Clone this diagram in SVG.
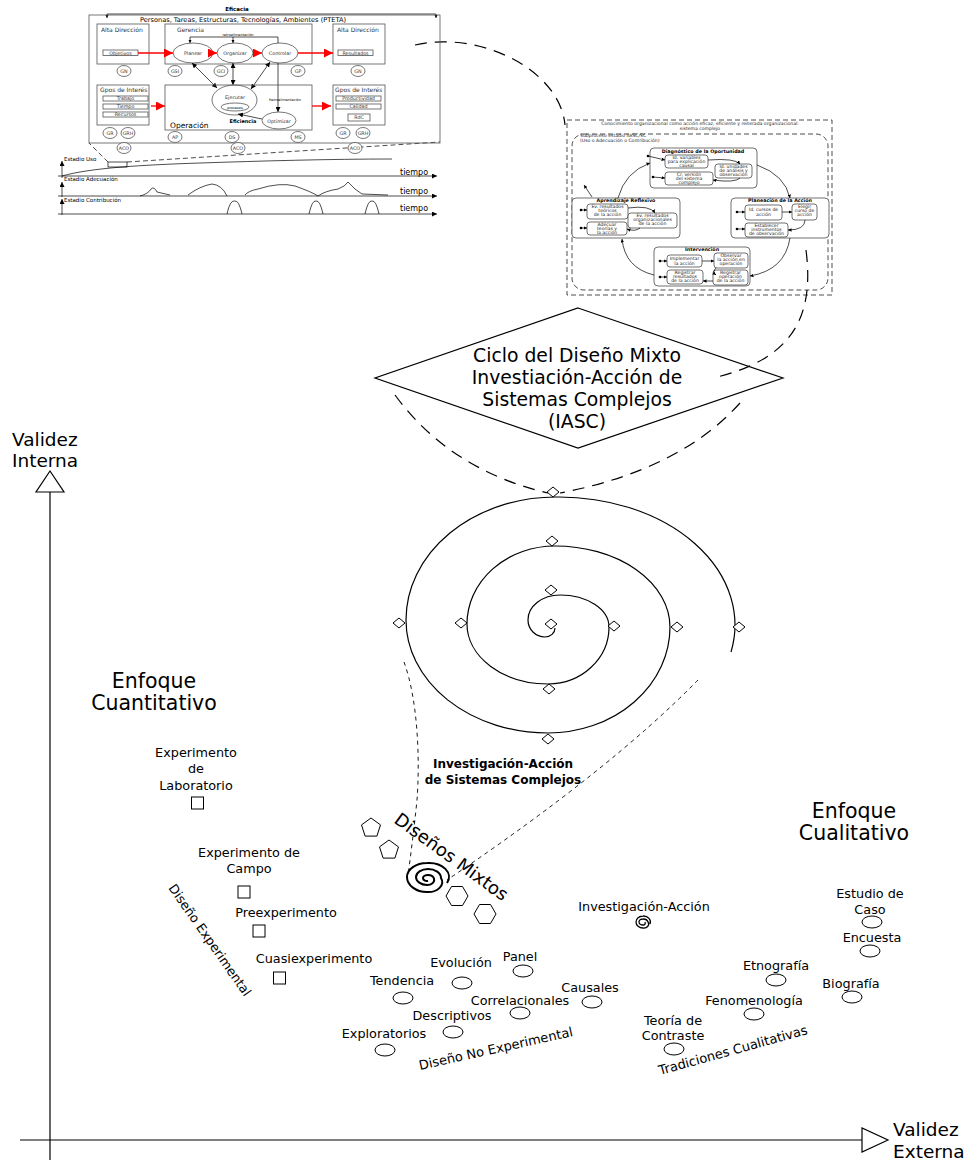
<svg xmlns="http://www.w3.org/2000/svg" width="973" height="1162" viewBox="0 0 973 1162">
<defs>
<style>
text{font-family:"DejaVu Sans","Liberation Sans",sans-serif;fill:#000}
.ln{stroke:#000;fill:none;stroke-width:1.2}
.thin{stroke:#000;fill:none;stroke-width:0.7}
.gr{stroke:#555;fill:none;stroke-width:0.8}
.wb{stroke:#333;fill:#fff;stroke-width:0.7}
.dl{stroke:#000;fill:none;stroke-width:1.2;stroke-dasharray:12 8}
.ds{stroke:#000;fill:none;stroke-width:0.9;stroke-dasharray:4 4}
.dc{stroke:#000;fill:none;stroke-width:0.7;stroke-dasharray:5 3}
.red{stroke:#f00;fill:none;stroke-width:1.3}
.lab{font-size:12.8px;text-anchor:middle}
.big{font-size:20.5px;text-anchor:middle}
.dia{font-size:18.8px;text-anchor:middle}
.tiny{font-size:4.6px;text-anchor:middle;fill:#222}
.tb{font-size:4.8px;text-anchor:middle;font-weight:bold}
.sm{font-size:6px;fill:#333}
.ci{font-size:4.8px;text-anchor:middle;fill:#333}
</style>
<marker id="ah" viewBox="0 0 10 10" refX="10" refY="5" markerWidth="5" markerHeight="5" orient="auto-start-reverse" markerUnits="userSpaceOnUse"><path d="M0,0 L10,5 L0,10 z" fill="#000"/></marker>
<marker id="as" viewBox="0 0 10 10" refX="10" refY="5" markerWidth="3.5" markerHeight="3.5" orient="auto-start-reverse" markerUnits="userSpaceOnUse"><path d="M0,0 L10,5 L0,10 z" fill="#000"/></marker>
<marker id="rh" viewBox="0 0 10 10" refX="10" refY="5" markerWidth="12" markerHeight="9" orient="auto" markerUnits="userSpaceOnUse"><path d="M0,0 L10,5 L0,10 z" fill="#f00"/></marker>
<path id="dm" d="M0,-5 L6,0 L0,5 L-6,0 Z" fill="#fff" stroke="#000" stroke-width="1"/>
<path id="pent" d="M0,-10 L9.5,-3.1 L5.9,8.1 L-5.9,8.1 L-9.5,-3.1 Z" fill="#fff" stroke="#000" stroke-width="1"/>
<path id="hex" d="M11,0 L5.5,9.5 L-5.5,9.5 L-11,0 L-5.5,-9.5 L5.5,-9.5 Z" fill="#fff" stroke="#000" stroke-width="1"/>
<ellipse id="ov" rx="10" ry="6" fill="#fff" stroke="#000" stroke-width="1"/>
<rect id="sq" x="-6" y="-6" width="12" height="12" fill="#fff" stroke="#000" stroke-width="1"/>
<ellipse id="gc" rx="7" ry="5.5" fill="#fff" stroke="#555" stroke-width="0.8"/>
</defs>
<rect width="973" height="1162" fill="#fff"/>

<!-- connectors -->
<g id="connectors">
<path class="dl" d="M415 45 C480 30 560 70 565 125"/>
<path class="dc" d="M108 162 L89 143"/>
<path class="dc" d="M127 162 L440 142"/>
<path class="dl" d="M806 250 C815 320 790 360 713 378"/>
<path class="dl" d="M395 395 Q450 470 548 493"/>
<path class="dl" d="M740 403 Q680 470 560 493"/>
<path class="ds" d="M404 662 C418 700 420 760 417 800 C414 830 410 860 408 876"/>
<path class="ds" d="M698 680 Q610 770 447 880"/>
</g>

<!-- axes -->
<g id="axes">
<path class="ln" d="M50 492 L50 1160"/>
<path d="M50 471 L64 492 L36 492 Z" fill="#fff" stroke="#000" stroke-width="1.2"/>
<path class="ln" d="M20 1140 L862 1140"/>
<path d="M888 1140 L862 1152 L862 1128 Z" fill="#fff" stroke="#000" stroke-width="1.2"/>
<text x="12" y="446" font-size="18.5">Validez</text>
<text x="12" y="467" font-size="18.5">Interna</text>
<text x="893" y="1136" font-size="18.5">Validez</text>
<text x="893" y="1158" font-size="18.5">Externa</text>
</g>

<!-- PTETA diagram -->
<g id="pteta">
<text x="237" y="11" font-size="5.5" font-weight="bold" text-anchor="middle">Eficacia</text>
<path class="thin" d="M107 14 L436 14"/>
<path class="thin" d="M107 14 L107 18" marker-end="url(#as)"/>
<path class="thin" d="M436 14 L436 18" marker-end="url(#as)"/>
<rect x="89" y="15" width="351" height="128" class="gr"/>
<text x="243" y="22" font-size="6.6" text-anchor="middle" fill="#333">Personas, Tareas, Estructuras, Tecnologías, Ambientes (PTETA)</text>
<rect x="97" y="24" width="52" height="40" class="gr"/>
<text x="101" y="32" class="sm" font-size="5.5">Alta Dirección</text>
<rect x="165" y="24" width="147" height="40" class="gr"/>
<text x="177" y="32" class="sm" font-size="5.5">Gerencia</text>
<rect x="333" y="24" width="52" height="40" class="gr"/>
<text x="337" y="32" class="sm" font-size="5.5">Alta Dirección</text>
<rect x="103" y="50" width="35" height="5.5" class="gr"/>
<text x="120.5" y="54.5" class="ci">Objetivos</text>
<rect x="338" y="50" width="35" height="5.5" class="gr"/>
<text x="355.5" y="54.5" class="ci">Resultados</text>
<ellipse cx="193" cy="53" rx="20" ry="10" class="gr"/>
<text x="193" y="55" class="ci" font-size="5.5">Planear</text>
<ellipse cx="235" cy="53" rx="18" ry="10" class="gr"/>
<text x="235" y="55" class="ci" font-size="5.5">Organizar</text>
<ellipse cx="280" cy="53" rx="18" ry="10" class="gr"/>
<text x="280" y="55" class="ci" font-size="5.5">Controlar</text>
<path class="red" d="M138 53 L173 53" marker-end="url(#rh)"/>
<path class="red" d="M212 53 L217 53" marker-end="url(#rh)"/>
<path class="red" d="M253 53 L262 53" marker-end="url(#rh)"/>
<path class="red" d="M298 53 L333 53" marker-end="url(#rh)"/>
<path class="thin" d="M278 43 L278 37 L190 37 L190 43" marker-end="url(#as)"/>
<path class="thin" d="M233 37 L233 43" marker-end="url(#as)"/>
<text x="238" y="36" font-size="3.5" text-anchor="middle" fill="#444">retroalimentación</text>
<use href="#gc" x="124" y="71"/><text x="124" y="72.7" class="ci">GN</text>
<use href="#gc" x="175" y="71"/><text x="175" y="72.7" class="ci">GSI</text>
<use href="#gc" x="221" y="71"/><text x="221" y="72.7" class="ci">GCI</text>
<use href="#gc" x="298" y="71"/><text x="298" y="72.7" class="ci">GP</text>
<use href="#gc" x="358" y="71"/><text x="358" y="72.7" class="ci">GN</text>
<path class="thin" d="M192 63 L217 88" marker-start="url(#ah)" marker-end="url(#ah)"/>
<path class="thin" d="M233 63 L233 85" marker-start="url(#ah)" marker-end="url(#ah)"/>
<path class="thin" d="M270 62 L251 89" marker-start="url(#ah)" marker-end="url(#ah)"/>
<path class="thin" d="M278 63 L278 112" marker-end="url(#ah)"/>
<rect x="97" y="85" width="52" height="40" class="gr"/>
<text x="100" y="92" class="sm" font-size="5.5">Gpos de Interés</text>
<rect x="103" y="96" width="45" height="5" class="gr"/><text x="125.5" y="100.3" class="ci">Trabajo</text>
<rect x="103" y="104" width="45" height="5" class="gr"/><text x="125.5" y="108.3" class="ci">Tiempo</text>
<rect x="103" y="112" width="45" height="5" class="gr"/><text x="125.5" y="116.3" class="ci">Recursos</text>
<path class="red" d="M151 106 L165 106" marker-end="url(#rh)"/>
<rect x="165" y="85" width="147" height="45" class="gr"/>
<text x="170" y="128" font-size="7.5" fill="#333">Operación</text>
<ellipse cx="234.5" cy="100" rx="22.5" ry="15" class="gr"/>
<text x="235" y="99" class="ci" font-size="5.5">Ejecutar</text>
<ellipse cx="235" cy="107" rx="14" ry="4" class="gr"/>
<text x="235" y="108.5" font-size="3.5" text-anchor="middle" fill="#333">procesos</text>
<ellipse cx="279" cy="120.5" rx="17" ry="8.5" class="gr"/>
<text x="279" y="122.5" class="ci" font-size="5.5">Optimizar</text>
<text x="285" y="101" font-size="3.5" text-anchor="middle" fill="#444">Retroalimentación</text>
<path class="thin" d="M238 114 L262 119" marker-start="url(#ah)"/>
<text x="243" y="123" font-size="5" font-weight="bold" text-anchor="middle">Eficiencia</text>
<path class="red" d="M312 106 L331 106" marker-end="url(#rh)"/>
<rect x="333" y="85" width="52" height="40" class="gr"/>
<text x="335" y="92" class="sm" font-size="5.5">Gpos de Interés</text>
<rect x="336" y="96" width="45" height="5" class="gr"/><text x="358.5" y="100.3" class="ci">Productividad</text>
<rect x="336" y="104" width="45" height="5" class="gr"/><text x="358.5" y="108.3" class="ci">Calidad</text>
<rect x="348" y="114" width="22" height="7" class="gr"/><text x="359" y="119.3" class="ci">RdC</text>
<use href="#gc" x="110" y="133"/><text x="110" y="134.7" class="ci">GR</text>
<use href="#gc" x="128" y="133"/><text x="128" y="134.7" class="ci">GRH</text>
<use href="#gc" x="175" y="137"/><text x="175" y="138.7" class="ci">AP</text>
<use href="#gc" x="232" y="137"/><text x="232" y="138.7" class="ci">DS</text>
<use href="#gc" x="298" y="137"/><text x="298" y="138.7" class="ci">MS</text>
<use href="#gc" x="343" y="133"/><text x="343" y="134.7" class="ci">GR</text>
<use href="#gc" x="363" y="133"/><text x="363" y="134.7" class="ci">GRH</text>
<use href="#gc" x="124" y="148"/><text x="124" y="149.7" class="ci">ACO</text>
<use href="#gc" x="238" y="148"/><text x="238" y="149.7" class="ci">ACO</text>
<use href="#gc" x="355" y="148"/><text x="355" y="149.7" class="ci">ACO</text>
</g>

<!-- timelines -->
<g id="timelines">
<path class="thin" d="M58 176 L437 176" marker-end="url(#ah)"/>
<path class="thin" d="M62 178 L62 161" marker-end="url(#ah)"/>
<path class="thin" d="M62 176 C90 168 140 165 200 163 S330 159 392 159"/>
<text x="64" y="161" font-size="5.5" fill="#333">Estadio  Uso</text>
<rect x="108" y="162" width="19" height="5" class="thin"/>
<text x="400" y="175" font-size="8" fill="#333">tiempo</text>
<path class="thin" d="M58 196 L437 196" marker-end="url(#ah)"/>
<path class="thin" d="M62 197 L62 182" marker-end="url(#ah)"/>
<path class="thin" d="M140 196 Q148 194 151 189 Q154 186 157 192 L170 195 M188 195 Q200 186 212 184 Q222 185 227 196 M245 195 Q248 191 258 189 Q280 182 295 186 Q312 192 318 196 Q325 191 338 189 Q346 186 348 182 Q355 190 362 194 L388 195"/>
<text x="64" y="181" font-size="5.5" fill="#333">Estadio Adecuación</text>
<text x="400" y="194" font-size="8" fill="#333">tiempo</text>
<path class="thin" d="M58 214 L437 214" marker-end="url(#ah)"/>
<path class="thin" d="M62 215 L62 199" marker-end="url(#ah)"/>
<path class="thin" d="M227 214 Q230 200 234.5 201 Q239 200 242 214 M309 214 Q312 200 316 201 Q320 200 323 214 M365 214 Q368 200 372 201 Q376 200 379 214"/>
<text x="64" y="202" font-size="5.5" fill="#333">Estadio Contribución</text>
<text x="400" y="211" font-size="8" fill="#333">tiempo</text>
</g>

<!-- cycle diagram -->
<g id="cycle">
<rect x="567" y="120" width="265" height="175" class="dc"/>
<rect x="572" y="134" width="256" height="156" rx="12" class="dc"/>
<text x="700" y="125" class="tiny">Conocimiento organizacional como acción eficaz, eficiente y reiterada organizacional:</text>
<text x="700" y="130" class="tiny">sistema complejo</text>
<text x="580" y="137" class="tiny" style="text-anchor:start">Subproceso estadio IIASC/SC</text>
<text x="580" y="142" class="tiny" style="text-anchor:start">(Uso o Adecuación o Contribución)</text>
<rect x="650" y="148" width="107" height="40" rx="4" class="wb" stroke-width="1"/>
<text x="703" y="153" class="tb">Diagnóstico de la Oportunidad</text>
<rect x="665" y="155" width="43" height="13" rx="3" class="wb"/>
<text x="686.5" y="159" class="tiny">Id. variables</text><text x="686.5" y="163" class="tiny">para explicación</text><text x="686.5" y="167" class="tiny">causal</text>
<rect x="715" y="164" width="37" height="14" rx="3" class="wb"/>
<text x="733.5" y="168" class="tiny">Id. unidades</text><text x="733.5" y="172" class="tiny">de análisis y</text><text x="733.5" y="176" class="tiny">observación</text>
<rect x="665" y="172" width="48" height="13" rx="3" class="wb"/>
<text x="689" y="176" class="tiny">Cr. versión</text><text x="689" y="180" class="tiny">del sistema</text><text x="689" y="184" class="tiny">complejo</text>
<rect x="572" y="198" width="108" height="40" rx="4" class="wb" stroke-width="1"/>
<text x="626" y="202" class="tb">Aprendizaje Reflexivo</text>
<rect x="587" y="204" width="41" height="15" rx="3" class="wb"/>
<text x="607.5" y="208" class="tiny">Ev. resultados</text><text x="607.5" y="212" class="tiny">teóricos</text><text x="607.5" y="216" class="tiny">de la acción</text>
<rect x="628" y="213" width="49" height="15" rx="3" class="wb"/>
<text x="652.5" y="217" class="tiny">Ev. resultados</text><text x="652.5" y="221" class="tiny">organizacionales</text><text x="652.5" y="225" class="tiny">de la acción</text>
<rect x="587" y="222" width="40" height="13" rx="3" class="wb"/>
<text x="607" y="226" class="tiny">Adecuar</text><text x="607" y="230" class="tiny">teorías y</text><text x="607" y="234" class="tiny">la acción</text>
<rect x="731" y="198" width="98" height="40" rx="4" class="wb" stroke-width="1"/>
<text x="780" y="202" class="tb">Planeación de la Acción</text>
<rect x="745" y="205" width="37" height="15" rx="3" class="wb"/>
<text x="763.5" y="211" class="tiny">Id. cursos de</text><text x="763.5" y="216" class="tiny">acción</text>
<rect x="792" y="204" width="25" height="16" rx="3" class="wb"/>
<text x="804.5" y="208" class="tiny">Elegir</text><text x="804.5" y="212" class="tiny">curso de</text><text x="804.5" y="216" class="tiny">acción</text>
<rect x="745" y="223" width="43" height="14" rx="3" class="wb"/>
<text x="766.5" y="227" class="tiny">Establecer</text><text x="766.5" y="231" class="tiny">instrumentos</text><text x="766.5" y="235" class="tiny">de observación</text>
<rect x="654" y="247" width="96" height="39" rx="4" class="wb" stroke-width="1"/>
<text x="702" y="251" class="tb">Intervención</text>
<rect x="667" y="255" width="35" height="12" rx="3" class="wb"/>
<text x="684.5" y="260" class="tiny">Implementar</text><text x="684.5" y="265" class="tiny">la acción</text>
<rect x="714" y="253" width="34" height="15" rx="3" class="wb"/>
<text x="731" y="257" class="tiny">Observar</text><text x="731" y="261" class="tiny">la acción en</text><text x="731" y="265" class="tiny">operación</text>
<rect x="667" y="270" width="36" height="14" rx="3" class="wb"/>
<text x="685" y="274" class="tiny">Registrar</text><text x="685" y="278" class="tiny">resultados</text><text x="685" y="282" class="tiny">de la acción</text>
<rect x="713" y="270" width="35" height="15" rx="3" class="wb"/>
<text x="730.5" y="274" class="tiny">Registrar</text><text x="730.5" y="278" class="tiny">operación</text><text x="730.5" y="282" class="tiny">de la acción</text>
<path class="thin" d="M757 165 Q785 175 790 198" marker-end="url(#as)"/>
<path class="thin" d="M790 238 Q785 270 750 276" marker-end="url(#as)"/>
<path class="thin" d="M654 275 Q625 268 622 239" marker-end="url(#as)"/>
<path class="thin" d="M618 198 Q625 172 650 163" marker-end="url(#as)"/>
<path class="thin" d="M592 197 L584 185" marker-end="url(#as)"/>
<path class="thin" d="M708 160 Q735 158 740 164" marker-end="url(#as)"/>
<path class="thin" d="M740 178 Q735 183 713 180" marker-end="url(#as)"/>
<path class="thin" d="M628 208 Q650 205 655 213" marker-end="url(#as)"/>
<path class="thin" d="M640 228 Q635 232 627 229" marker-end="url(#as)"/>
<path class="thin" d="M782 212 L792 212" marker-end="url(#as)"/>
<path class="thin" d="M805 220 Q805 230 788 230" marker-end="url(#as)"/>
<path class="thin" d="M702 261 L714 261" marker-end="url(#as)"/>
<path class="thin" d="M716 268 Q712 272 716 275" marker-end="url(#as)"/>
<path class="thin" d="M713 281 L703 281" marker-end="url(#as)"/>
<g fill="#000">
<circle cx="648" cy="156" r="1.3"/><circle cx="653" cy="177" r="1.3"/>
<circle cx="581" cy="210" r="1.3"/><circle cx="581" cy="228" r="1.3"/>
<circle cx="737" cy="212" r="1.3"/><circle cx="737" cy="229" r="1.3"/>
<circle cx="660" cy="261" r="1.3"/><circle cx="660" cy="277" r="1.3"/>
</g>
<path class="thin" d="M648 156 L665 160" marker-end="url(#as)"/>
<path class="thin" d="M653 177 L665 178" marker-end="url(#as)"/>
<path class="thin" d="M581 210 L587 210" marker-end="url(#as)"/>
<path class="thin" d="M581 228 L587 228" marker-end="url(#as)"/>
<path class="thin" d="M737 212 L745 212" marker-end="url(#as)"/>
<path class="thin" d="M737 229 L745 229" marker-end="url(#as)"/>
<path class="thin" d="M660 261 L667 261" marker-end="url(#as)"/>
<path class="thin" d="M660 277 L667 277" marker-end="url(#as)"/>
</g>

<!-- diamond node -->
<g id="iasc">
<path d="M578 308 L783 378 L578 448 L375 378 Z" fill="none" stroke="#000" stroke-width="1.2"/>
<text x="577" y="362" class="dia">Ciclo del Diseño Mixto</text>
<text x="577" y="384" class="dia">Investiación-Acción de</text>
<text x="577" y="406" class="dia">Sistemas Complejos</text>
<text x="577" y="428" class="dia">(IASC)</text>
</g>

<!-- spiral -->
<g id="spiral">
<path class="ln" d="M731 652 A176 128 0 0 0 556 497 A150 123 0 0 0 406 620 A142 113 0 0 0 548 733 A122 106 0 0 0 670 627 A115 81 0 0 0 555 546 A88 78 0 0 0 467 624 A81 60 0 0 0 548 684 A61 57 0 0 0 609 627 A49 32 0 0 0 560 595 A32 25 0 0 0 528 620 A17 17 0 0 0 545 637 A10 9 0 0 0 555 628"/>
<use href="#dm" x="553" y="492"/><use href="#dm" x="552" y="541"/><use href="#dm" x="551" y="590"/><use href="#dm" x="551" y="624"/>
<use href="#dm" x="614" y="626"/><use href="#dm" x="677" y="627"/><use href="#dm" x="739" y="627"/>
<use href="#dm" x="461" y="623"/><use href="#dm" x="399" y="623"/>
<use href="#dm" x="549" y="689"/><use href="#dm" x="548" y="739"/>
<text x="503" y="768" font-size="12" font-weight="bold" text-anchor="middle">Investigación-Acción</text>
<text x="503" y="784" font-size="12" font-weight="bold" text-anchor="middle">de Sistemas Complejos</text>
</g>

<!-- mixed designs -->
<g id="mixtos">
<use href="#pent" x="371" y="828"/>
<use href="#pent" x="389" y="850"/>
<use href="#hex" x="457" y="896"/>
<use href="#hex" x="485" y="914"/>
<path stroke="#000" fill="none" stroke-width="2" d="M447 883 A20 14 0 0 0 427 863 A20 14 0 0 0 407 877 A20 15 0 0 0 427 892 A14 10 0 0 0 441 878 A13 9 0 0 0 428 869 A12 8 0 0 0 416 877 A11 8 0 0 0 427 885 A7 5 0 0 0 434 879 A6 4 0 0 0 428 875 A5 3 0 0 0 423 878 A4 3 0 0 0 428 881"/>
<text transform="translate(393 822) rotate(36)" font-size="18">Diseños Mixtos</text>
</g>

<!-- labels -->
<g id="cuanti">
<text x="154" y="688" class="big">Enfoque</text>
<text x="154" y="710" class="big">Cuantitativo</text>
<text x="196" y="757" class="lab">Experimento</text>
<text x="196" y="773" class="lab">de</text>
<text x="196" y="790" class="lab">Laboratorio</text>
<use href="#sq" x="197.5" y="803"/>
<text x="249" y="857" class="lab">Experimento de</text>
<text x="249" y="873" class="lab">Campo</text>
<use href="#sq" x="244" y="892"/>
<text x="286" y="917" class="lab">Preexperimento</text>
<use href="#sq" x="259" y="931"/>
<text x="314" y="963" class="lab">Cuasiexperimento</text>
<use href="#sq" x="279.5" y="978"/>
<text transform="translate(168 888) rotate(55)" font-size="12.8">Diseño Experimental</text>
</g>

<g id="noexp">
<text x="461" y="967" class="lab">Evolución</text><use href="#ov" x="462" y="983"/>
<text x="520" y="961" class="lab">Panel</text><use href="#ov" x="523" y="971"/>
<text x="402" y="985" class="lab">Tendencia</text><use href="#ov" x="403" y="998"/>
<text x="590" y="992" class="lab">Causales</text><use href="#ov" x="592" y="1002"/>
<text x="520" y="1005" class="lab">Correlacionales</text><use href="#ov" x="520" y="1013"/>
<text x="452" y="1020" class="lab">Descriptivos</text><use href="#ov" x="453" y="1032"/>
<text x="384" y="1038" class="lab">Exploratorios</text><use href="#ov" x="385" y="1050"/>
<text transform="translate(420 1070) rotate(-12.5)" font-size="13">Diseño No Experimental</text>
</g>

<g id="cuali">
<text x="854" y="818" class="big">Enfoque</text>
<text x="854" y="840" class="big">Cualitativo</text>
<text x="644" y="911" class="lab">Investigación-Acción</text>
<path stroke="#000" fill="none" stroke-width="1.3" d="M650 924 A7 6 0 0 0 643 916 A7 6 0 0 0 636 922 A7 6 0 0 0 643 928 A5 4 0 0 0 648 922 A5 4 0 0 0 643 919 A4 3 0 0 0 639 922 A4 3 0 0 0 643 925 A2 2 0 0 0 645 922"/>
<text x="870" y="898" class="lab">Estudio de</text>
<text x="870" y="914" class="lab">Caso</text><use href="#ov" x="872" y="922"/>
<text x="872" y="942" class="lab">Encuesta</text><use href="#ov" x="870" y="951"/>
<text x="776" y="970" class="lab">Etnografía</text><use href="#ov" x="776" y="980"/>
<text x="851" y="988" class="lab">Biografía</text><use href="#ov" x="852" y="997"/>
<text x="754" y="1005" class="lab">Fenomenología</text><use href="#ov" x="754" y="1014"/>
<text x="673" y="1025" class="lab">Teoría de</text>
<text x="673" y="1040" class="lab">Contraste</text><use href="#ov" x="674" y="1049"/>
<text transform="translate(660 1075) rotate(-15.5)" font-size="13">Tradiciones Cualitativas</text>
</g>
</svg>
